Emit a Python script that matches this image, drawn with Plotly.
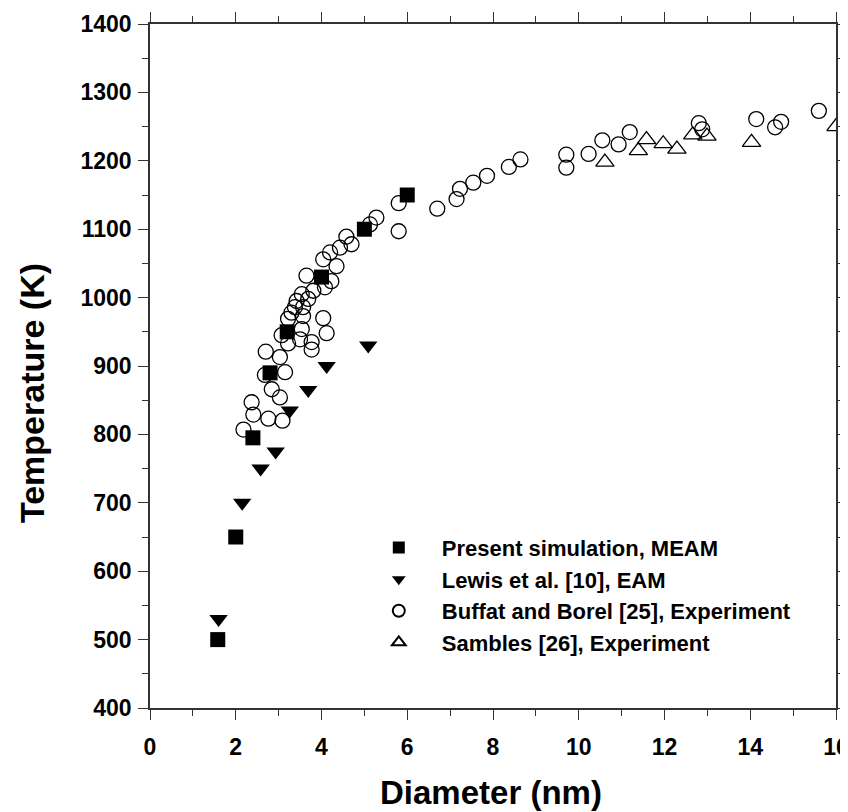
import plotly.graph_objects as go

# Present simulation, MEAM
meam_d = [1.58, 2.0, 2.4, 2.8, 3.2, 4.0, 5.0, 6.0]
meam_T = [500, 650, 795, 890, 950, 1030, 1100, 1150]

# Lewis et al. [10], EAM
lewis_d = [1.6, 2.15, 2.58, 2.93, 3.26, 3.69, 4.12, 5.09]
lewis_T = [530, 700, 750, 775, 835, 865, 900, 930]

# Buffat and Borel [25], Experiment
buffat_d = [2.18, 2.37, 2.41, 2.68, 2.70, 2.76, 2.84, 3.03, 3.03, 3.07, 3.09, 3.15,
            3.22, 3.22, 3.30, 3.38, 3.42, 3.50, 3.54, 3.54, 3.57, 3.57, 3.65, 3.69,
            3.77, 3.77, 3.81, 4.04, 4.04, 4.08, 4.12, 4.20, 4.23, 4.35, 4.43, 4.58,
            4.70, 5.13, 5.28, 5.80, 5.80, 6.70, 7.15, 7.23, 7.54, 7.86, 8.37, 8.64,
            9.71, 9.71, 10.23, 10.55, 10.93, 11.19, 12.80, 12.88, 14.14, 14.58, 14.72, 15.60]
buffat_T = [807, 847, 829, 887, 921, 823, 866, 854, 913, 945, 820, 891,
            969, 933, 978, 986, 995, 939, 1005, 954, 986, 973, 1032, 998,
            935, 924, 1010, 1056, 970, 1015, 948, 1066, 1024, 1046, 1073, 1089,
            1078, 1107, 1117, 1138, 1097, 1130, 1144, 1159, 1168, 1178, 1191, 1202,
            1209, 1190, 1210, 1230, 1224, 1242, 1255, 1246, 1261, 1249, 1257, 1273]

# Sambles [26], Experiment
sambles_d = [10.61, 11.39, 11.58, 11.97, 12.29, 12.66, 12.99, 14.03, 16.0]
sambles_T = [1198, 1215, 1231, 1225, 1217, 1238, 1236, 1227, 1250]

x_title = "Diameter (nm)"
y_title = "Temperature (K)"

FONT = "Liberation Sans, Arial, Helvetica, sans-serif"

fig = go.Figure()
fig.add_trace(go.Scatter(
    x=buffat_d, y=buffat_T, mode="markers", name="Buffat and Borel [25], Experiment",
    legendrank=3,
    marker=dict(symbol="circle-open", size=15, color="black", line=dict(width=1.3, color="black"))))
fig.add_trace(go.Scatter(
    x=sambles_d, y=sambles_T, mode="markers", name="Sambles [26], Experiment",
    legendrank=4,
    marker=dict(symbol="triangle-up-open", size=16, color="black", line=dict(width=1.3, color="black"))))
fig.add_trace(go.Scatter(
    x=lewis_d, y=lewis_T, mode="markers", name="Lewis et al. [10], EAM",
    legendrank=2,
    marker=dict(symbol="triangle-down", size=16, color="black", line=dict(width=0))))
fig.add_trace(go.Scatter(
    x=meam_d, y=meam_T, mode="markers", name="Present simulation, MEAM",
    legendrank=1,
    marker=dict(symbol="square", size=15, color="black", line=dict(width=0))))

axis_common = dict(
    showline=True, linecolor="#333333", linewidth=1.5, mirror="ticks",
    ticks="outside", ticklen=10, tickwidth=1.3, tickcolor="#333333",
    showgrid=False, zeroline=False, automargin=False,
    ticklabeloverflow="allow",
    tickfont=dict(family=FONT, size=23, color="black", weight="bold"),
)

fig.update_xaxes(
    range=[0, 16], tickmode="linear", tick0=0, dtick=2,
    minor=dict(ticks="outside", ticklen=6, dtick=1, tickcolor="#333333", tickwidth=1.2),
    ticklabelstandoff=8,
    **axis_common)
fig.update_yaxes(
    range=[400, 1400], tickmode="linear", tick0=400, dtick=100,
    minor=dict(ticks="outside", ticklen=6, dtick=50, tickcolor="#333333", tickwidth=1.2),
    ticklabelstandoff=2,
    **axis_common)

fig.update_layout(
    width=840, height=804,
    margin=dict(l=142, r=12, t=16, b=104),
    paper_bgcolor="white", plot_bgcolor="white",
    showlegend=True,
    legend=dict(
        x=0.30, y=0.265, xanchor="left", yanchor="top",
        bgcolor="rgba(0,0,0,0)", borderwidth=0,
        itemwidth=76, itemsizing="constant",
        font=dict(family=FONT, size=22, color="black", weight="bold"),
        tracegroupgap=0,
    ),
    annotations=[
        dict(text=x_title, xref="paper", yref="paper", x=0.497, y=-0.123,
             xanchor="center", yanchor="middle", showarrow=False,
             font=dict(family=FONT, size=33, color="black", weight="bold")),
        dict(text=y_title, xref="paper", yref="paper", x=-0.171, y=0.46,
             xanchor="center", yanchor="middle", showarrow=False, textangle=-90,
             font=dict(family=FONT, size=34, color="black", weight="bold")),
    ],
)

fig.write_html("out.html")
